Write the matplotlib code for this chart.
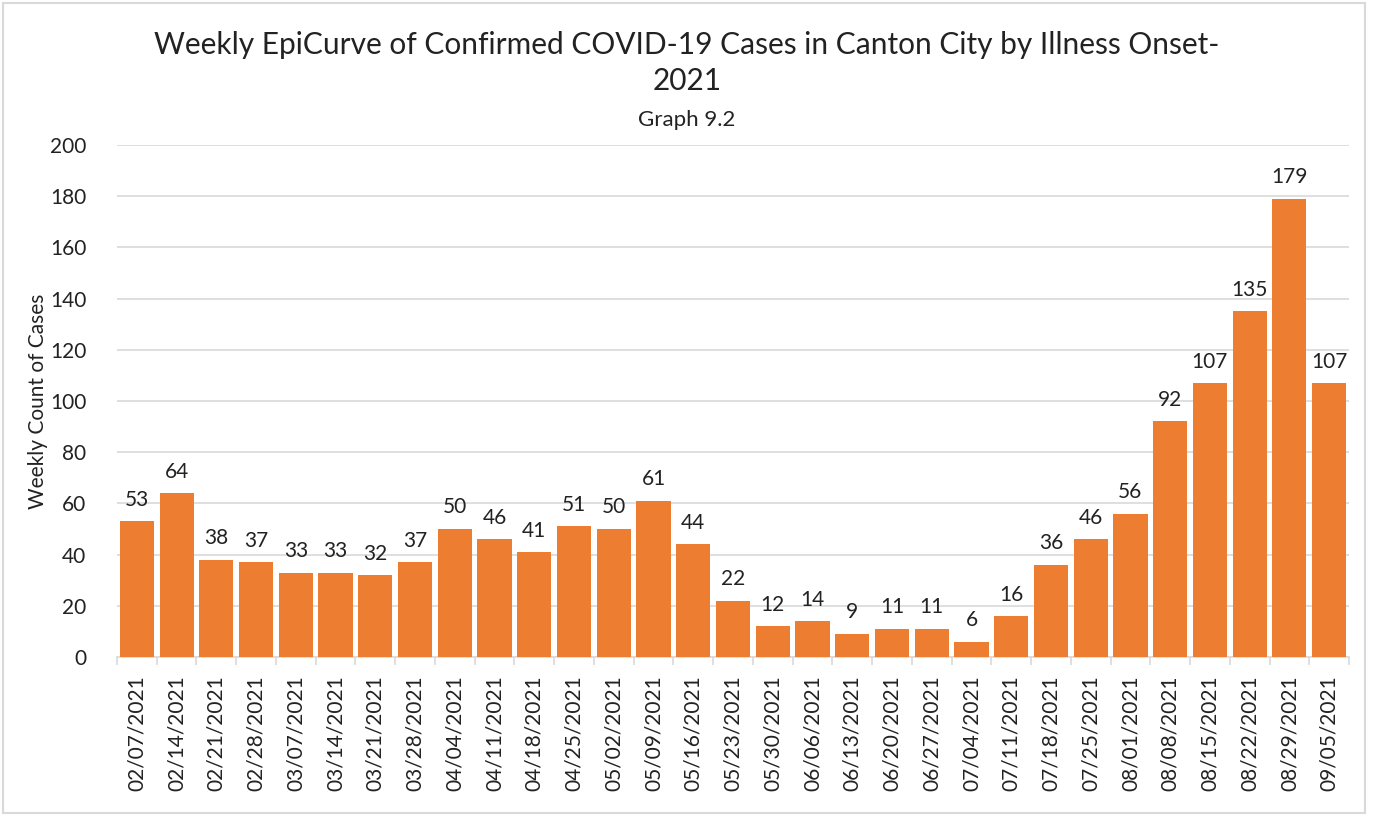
import matplotlib
matplotlib.use("Agg")
import matplotlib.pyplot as plt
from matplotlib.patches import Rectangle

weeks = ["02/07/2021","02/14/2021","02/21/2021","02/28/2021","03/07/2021","03/14/2021",
         "03/21/2021","03/28/2021","04/04/2021","04/11/2021","04/18/2021","04/25/2021",
         "05/02/2021","05/09/2021","05/16/2021","05/23/2021","05/30/2021","06/06/2021",
         "06/13/2021","06/20/2021","06/27/2021","07/04/2021","07/11/2021","07/18/2021",
         "07/25/2021","08/01/2021","08/08/2021","08/15/2021","08/22/2021","08/29/2021",
         "09/05/2021"]
cases = [53,64,38,37,33,33,32,37,50,46,41,51,50,61,44,22,12,14,9,11,11,6,16,36,46,56,
         92,107,135,179,107]
yticks = [0,20,40,60,80,100,120,140,160,180,200]

plt.rcParams['font.family'] = ['Lato', 'DejaVu Sans']
W, H = 1373, 815
fig = plt.figure(figsize=(W/100, H/100), dpi=100)
fig.patches.append(Rectangle((3/W, 2/H), (1365-3)/W, (812-2)/H, transform=fig.transFigure,
                             fill=False, edgecolor='#D9D9D9', lw=1.5))
ax = fig.add_axes([117/W, 1-657/H, (1349-117)/W, (657-145)/H])
n = len(weeks)
x = list(range(n))
ax.bar(x, cases, width=0.86, color='#ED7D31', zorder=3)
for xi, v in zip(x, cases):
    ax.text(xi, v + 4.5, str(v), ha='center', va='bottom', fontsize=15, color='#222222')
ax.set_xlim(-0.5, n - 0.5)
ax.set_ylim(0, 200)
ax.set_yticks(yticks)
ax.set_yticklabels([str(t) for t in yticks], fontsize=15, color='#222222')
ax.yaxis.grid(True, color='#D9D9D9', lw=1.2, zorder=0)
ax.tick_params(axis='y', length=0, pad=22)
ax.set_xticks(x)
ax.set_xticklabels(weeks, rotation=90, fontsize=15, color='#222222')
ax.tick_params(axis='x', length=0, pad=13)
ax.set_xticks([i - 0.5 for i in range(n + 1)], minor=True)
ax.tick_params(axis='x', which='minor', length=6, color='#D9D9D9', width=1.2)
for s in ['top', 'right', 'left']:
    ax.spines[s].set_visible(False)
ax.spines['bottom'].set_color('#D9D9D9')
ax.spines['bottom'].set_linewidth(1.2)
ax.set_ylabel('Weekly Count of Cases', fontsize=15, color='#222222')
ax.yaxis.set_label_coords(-0.056, 0.5)
fig.text(687/W, 1-45/H, 'Weekly EpiCurve of Confirmed COVID-19 Cases in Canton City by Illness Onset-',
         ha='center', va='center', fontsize=21.5, color='#222222')
fig.text(687/W, 1-81/H, '2021', ha='center', va='center', fontsize=21.5, color='#222222')
fig.text(687/W, 1-120/H, 'Graph 9.2', ha='center', va='center', fontsize=16, color='#222222')
fig.savefig('out.png', dpi=100)
